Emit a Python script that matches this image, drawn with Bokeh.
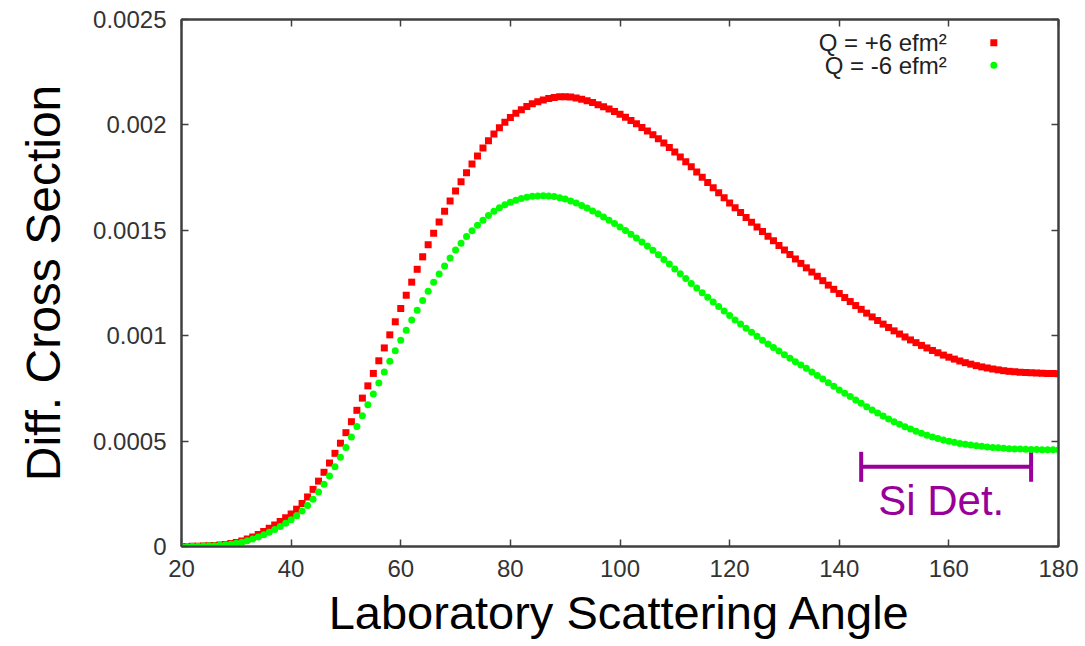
from bokeh.plotting import figure
from bokeh.models import (LinearAxis, FixedTicker, ColumnDataSource, Whisker, TeeHead,
                          Range1d, CustomJSTickFormatter)
from bokeh.core.properties import value
from bokeh.embed import file_html
from bokeh.resources import INLINE

# ---------------- data ----------------
angles = list(range(20, 181))

# Q = +6 efm^2 (values in units of 1e-4)
plus_q_e4 = [
    0.00, 0.00, 0.01, 0.01, 0.02, 0.03, 0.05, 0.07, 0.10, 0.14,
    0.19, 0.26, 0.35, 0.45, 0.57, 0.71, 0.86, 1.02, 1.19, 1.36,
    1.54, 1.77, 2.04, 2.35, 2.71, 3.10, 3.52, 3.96, 4.42, 4.90,
    5.40, 5.92, 6.46, 7.04, 7.62, 8.21, 8.81, 9.42, 10.04, 10.66,
    11.29, 11.92, 12.54, 13.15, 13.74, 14.31, 14.86, 15.39, 15.90, 16.39,
    16.86, 17.30, 17.73, 18.14, 18.53, 18.90, 19.25, 19.57, 19.86, 20.12,
    20.35, 20.55, 20.72, 20.87, 21.00, 21.10, 21.18, 21.25, 21.30, 21.33,
    21.34, 21.32, 21.28, 21.22, 21.15, 21.06, 20.96, 20.86, 20.75, 20.63,
    20.50, 20.36, 20.21, 20.05, 19.88, 19.71, 19.53, 19.34, 19.14, 18.93,
    18.71, 18.48, 18.25, 18.01, 17.77, 17.52, 17.27, 17.02, 16.78, 16.54,
    16.30, 16.07, 15.84, 15.61, 15.38, 15.16, 14.94, 14.72, 14.50, 14.28,
    14.06, 13.85, 13.64, 13.43, 13.22, 13.02, 12.82, 12.61, 12.40, 12.20,
    12.00, 11.81, 11.62, 11.43, 11.25, 11.07, 10.89, 10.72, 10.55, 10.39,
    10.23, 10.08, 9.94, 9.80, 9.67, 9.54, 9.42, 9.30, 9.19, 9.08,
    8.98, 8.89, 8.80, 8.72, 8.65, 8.58, 8.52, 8.47, 8.42, 8.38,
    8.34, 8.31, 8.29, 8.27, 8.25, 8.24, 8.23, 8.22, 8.21, 8.21,
    8.20,
]

# Q = -6 efm^2 (values in units of 1e-4)
minus_q_e4 = [
    0.00, 0.00, 0.01, 0.01, 0.02, 0.03, 0.04, 0.06, 0.08, 0.11,
    0.15, 0.20, 0.27, 0.35, 0.45, 0.56, 0.68, 0.81, 0.95, 1.10,
    1.27, 1.46, 1.68, 1.94, 2.24, 2.58, 2.95, 3.35, 3.78, 4.23,
    4.70, 5.19, 5.69, 6.20, 6.72, 7.24, 7.76, 8.28, 8.79, 9.29,
    9.78, 10.26, 10.74, 11.21, 11.67, 12.11, 12.53, 12.93, 13.31, 13.69,
    14.06, 14.39, 14.70, 14.98, 15.24, 15.48, 15.70, 15.90, 16.07, 16.21,
    16.33, 16.43, 16.51, 16.57, 16.61, 16.63, 16.64, 16.63, 16.60, 16.55,
    16.48, 16.39, 16.29, 16.18, 16.06, 15.92, 15.78, 15.63, 15.48, 15.32,
    15.16, 14.99, 14.81, 14.63, 14.44, 14.25, 14.05, 13.84, 13.62, 13.40,
    13.17, 12.94, 12.71, 12.48, 12.26, 12.04, 11.82, 11.60, 11.38, 11.17,
    10.96, 10.75, 10.55, 10.35, 10.16, 9.97, 9.79, 9.61, 9.44, 9.27,
    9.10, 8.93, 8.77, 8.61, 8.45, 8.28, 8.11, 7.94, 7.77, 7.60,
    7.43, 7.27, 7.11, 6.95, 6.79, 6.63, 6.48, 6.33, 6.19, 6.05,
    5.92, 5.80, 5.68, 5.57, 5.47, 5.37, 5.28, 5.20, 5.12, 5.05,
    4.99, 4.94, 4.89, 4.85, 4.81, 4.78, 4.75, 4.72, 4.70, 4.68,
    4.66, 4.64, 4.63, 4.62, 4.61, 4.60, 4.60, 4.59, 4.59, 4.59,
    4.59,
]

series_labels = ["Q = +6 efm\u00b2", "Q = -6 efm\u00b2"]

x_ticks = [20, 40, 60, 80, 100, 120, 140, 160, 180]
x_tick_labels = ["20", "40", "60", "80", "100", "120", "140", "160", "180"]
y_ticks = [0, 0.0005, 0.001, 0.0015, 0.002, 0.0025]
y_tick_labels = ["0", "0.0005", "0.001", "0.0015", "0.002", "0.0025"]

# Si detector angular coverage
si_det_range = [144, 175]
si_det_label = "Si Det."

# ---------------- layout / style ----------------
RED = "#ff0000"
GREEN = "#00ff00"
PURPLE = "#990099"
AXIS_COL = "#404040"
FONT = "Liberation Sans"

# legend / annotation placement (data coordinates)
legend_text_x = 159.6
legend_marker_x = 168.2
legend_rows_y = [0.00239, 0.002283]
si_bar_y = 0.000378
si_text_x = 158.6
si_text_y = 0.000219

p = figure(width=1085, height=646,
           x_range=Range1d(20, 180), y_range=Range1d(0, 0.0025),
           output_backend="svg", toolbar_location=None,
           min_border_left=181, min_border_right=27,
           min_border_top=19, min_border_bottom=100,
           x_axis_label="Laboratory Scattering Angle",
           y_axis_label="Diff. Cross Section")
p.xgrid.visible = False
p.ygrid.visible = False
p.outline_line_color = AXIS_COL
p.outline_line_width = 2
p.background_fill_color = "white"
p.border_fill_color = "white"


def style_axis(ax, ticks, labels=None):
    ax.ticker = FixedTicker(ticks=ticks)
    if labels is not None:
        ax.major_label_overrides = {t: l for t, l in zip(ticks, labels)}
    ax.axis_line_color = AXIS_COL
    ax.axis_line_width = 2
    ax.major_tick_line_color = AXIS_COL
    ax.major_tick_line_width = 1.5
    ax.major_tick_in = 7
    ax.major_tick_out = 0
    ax.minor_tick_line_color = None
    ax.major_label_text_font = FONT
    ax.major_label_text_font_size = "24px"
    ax.major_label_text_color = "#333333"
    ax.axis_label_text_font = FONT
    ax.axis_label_text_font_style = "normal"
    ax.axis_label_text_color = "#000000"


xa = p.xaxis[0]
style_axis(xa, x_ticks, x_tick_labels)
xa.major_label_standoff = 13
xa.axis_label_standoff = 6
xa.axis_label_text_font_size = "47px"

ya = p.yaxis[0]
style_axis(ya, y_ticks, y_tick_labels)
ya.major_label_standoff = 15
ya.axis_label_standoff = 20
ya.axis_label_text_font_size = "48px"

# mirrored ticks on top and right (no labels)
top_ax = LinearAxis(formatter=CustomJSTickFormatter(code="return ''"))
style_axis(top_ax, x_ticks)
top_ax.major_label_standoff = 0
top_ax.major_label_text_font_size = "0px"
p.add_layout(top_ax, "above")

right_ax = LinearAxis(formatter=CustomJSTickFormatter(code="return ''"))
style_axis(right_ax, y_ticks)
right_ax.major_label_standoff = 0
right_ax.major_label_text_font_size = "0px"
p.add_layout(right_ax, "right")

# ---------------- data marks ----------------
src = ColumnDataSource(dict(
    angle=angles,
    plus=[v * 1e-4 for v in plus_q_e4],
    minus=[v * 1e-4 for v in minus_q_e4],
))
p.scatter("angle", "plus", source=src, marker="square", size=7,
          fill_color=RED, line_color=None)
p.scatter("angle", "minus", source=src, marker="circle", size=7,
          fill_color=GREEN, line_color=None)

# ---------------- legend (text left of marker, gnuplot style) ----------------
p.text(x=[legend_text_x, legend_text_x], y=legend_rows_y, text=series_labels,
       text_font=value(FONT), text_font_size="24px", text_color="#222222",
       text_align="right", text_baseline="middle")
p.scatter(x=[legend_marker_x], y=[legend_rows_y[0]], marker="square", size=7,
          fill_color=RED, line_color=None)
p.scatter(x=[legend_marker_x], y=[legend_rows_y[1]], marker="circle", size=7,
          fill_color=GREEN, line_color=None)

# ---------------- Si detector bar ----------------
si_src = ColumnDataSource(dict(base=[si_bar_y], lower=[si_det_range[0]],
                               upper=[si_det_range[1]]))
whisk = Whisker(source=si_src, base="base", lower="lower", upper="upper",
                dimension="width", line_color=PURPLE, line_width=4,
                lower_head=TeeHead(size=30, line_color=PURPLE, line_width=4),
                upper_head=TeeHead(size=30, line_color=PURPLE, line_width=4))
p.add_layout(whisk)
p.text(x=[si_text_x], y=[si_text_y], text=[si_det_label],
       text_font=value(FONT), text_font_size="42px", text_color=PURPLE,
       text_align="center", text_baseline="middle")

open("out.html", "w").write(file_html(p, INLINE))
